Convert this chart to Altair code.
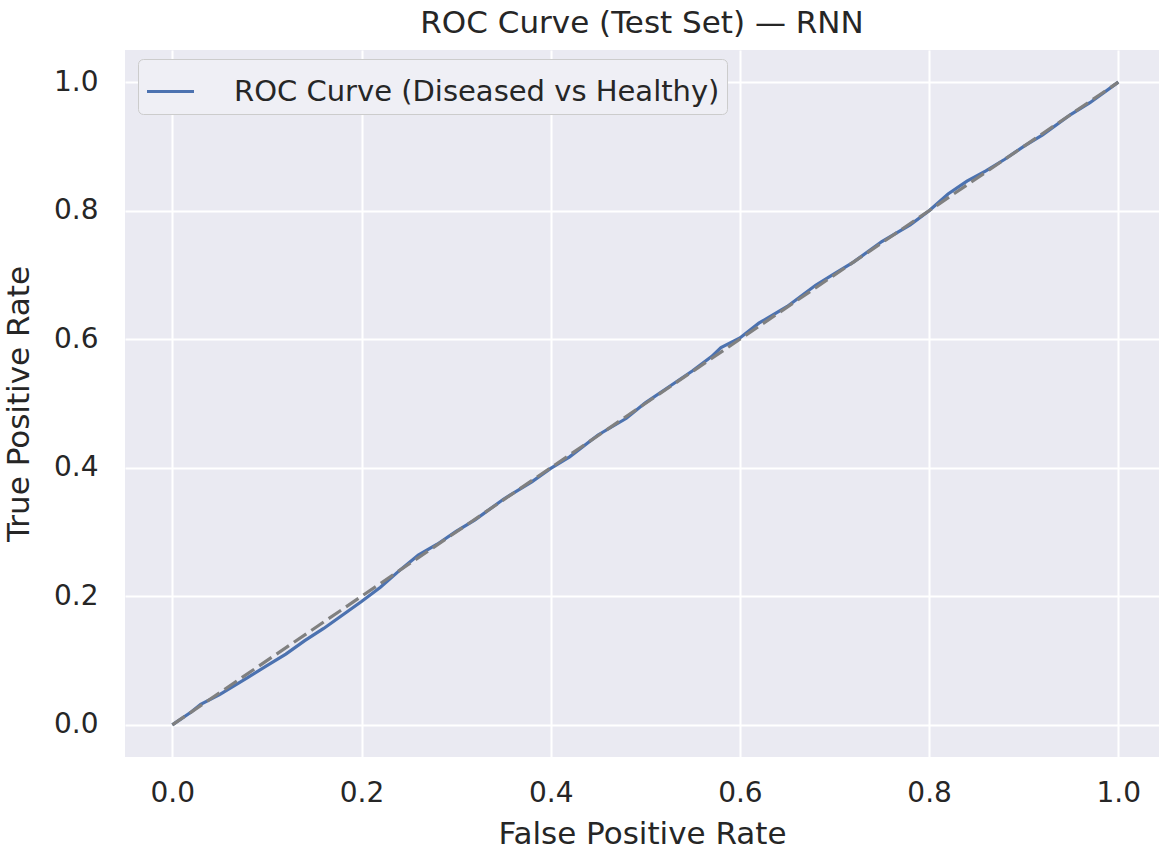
import altair as alt
import pandas as pd

fpr = [0.00, 0.02, 0.03, 0.05, 0.08, 0.10, 0.12, 0.14, 0.16, 0.18, 0.20, 0.22, 0.24, 0.26,
       0.28, 0.30, 0.32, 0.35, 0.38, 0.40, 0.42, 0.45, 0.48, 0.50, 0.52, 0.55, 0.57, 0.58,
       0.60, 0.62, 0.65, 0.68, 0.70, 0.72, 0.75, 0.78, 0.80, 0.82, 0.84, 0.86, 0.88, 0.90,
       0.92, 0.95, 0.97, 1.00]
tpr = [0.000, 0.020, 0.032, 0.047, 0.074, 0.092, 0.110, 0.131, 0.150, 0.171, 0.192, 0.214,
       0.240, 0.264, 0.281, 0.301, 0.319, 0.351, 0.378, 0.399, 0.417, 0.451, 0.477, 0.501,
       0.521, 0.551, 0.573, 0.587, 0.602, 0.625, 0.651, 0.684, 0.702, 0.720, 0.752, 0.778,
       0.800, 0.826, 0.846, 0.862, 0.880, 0.900, 0.918, 0.950, 0.968, 1.000]
diag_x = [0.0, 1.0]
diag_y = [0.0, 1.0]
series_name = "ROC Curve (Diseased vs Healthy)"
ticks = [0.0, 0.2, 0.4, 0.6, 0.8, 1.0]

roc = pd.DataFrame({"fpr": fpr, "tpr": tpr, "series": series_name})
diag = pd.DataFrame({"fpr": diag_x, "tpr": diag_y})

FONT = "DejaVu Sans"
TXT = "#262626"

xs = alt.Scale(domain=[-0.05, 1.043], nice=False, zero=False)
ys = alt.Scale(domain=[-0.05, 1.05], nice=False, zero=False)

xaxis = alt.Axis(title="False Positive Rate", values=ticks, format=".1f", grid=True,
                 gridColor="white", gridWidth=2, gridOpacity=1, domain=False, ticks=False,
                 labelFontSize=28, titleFontSize=31, labelPadding=22, titlePadding=12,
                 labelColor=TXT, titleColor=TXT, labelFont=FONT, titleFont=FONT,
                 titleFontWeight="normal")
yaxis = alt.Axis(title="True Positive Rate", values=ticks, format=".1f", grid=True,
                 gridColor="white", gridWidth=2, gridOpacity=1, domain=False, ticks=False,
                 labelFontSize=28, titleFontSize=31, labelPadding=27, titlePadding=18,
                 labelColor=TXT, titleColor=TXT, labelFont=FONT, titleFont=FONT,
                 titleFontWeight="normal")

line = alt.Chart(roc).mark_line(strokeWidth=3.2, clip=True).encode(
    x=alt.X("fpr:Q", scale=xs, axis=xaxis),
    y=alt.Y("tpr:Q", scale=ys, axis=yaxis),
    color=alt.Color("series:N",
                    scale=alt.Scale(domain=[series_name], range=["#4C72B0"]),
                    legend=alt.Legend(title=None, orient="none", legendX=13, legendY=9,
                                      symbolType="stroke", symbolSize=2209,
                                      symbolStrokeWidth=3.2, labelFontSize=29,
                                      labelFont=FONT, labelColor=TXT, labelOffset=38,
                                      fillColor="#EFEFF5", strokeColor="#CCCCCC",
                                      cornerRadius=5, padding=7, labelLimit=800)),
)

dash = alt.Chart(diag).mark_line(strokeWidth=3.2, color="#808080",
                                 strokeDash=[15, 6], clip=True).encode(
    x=alt.X("fpr:Q", scale=xs),
    y=alt.Y("tpr:Q", scale=ys),
)

chart = alt.layer(line, dash).properties(
    width=1034, height=707,
    background="white",
    title=alt.TitleParams("ROC Curve (Test Set) — RNN", fontSize=31, font=FONT,
                          color=TXT, fontWeight="normal", anchor="middle", offset=10),
    autosize=alt.AutoSizeParams(type="none"),
    padding={"left": 125, "top": 50, "right": 0, "bottom": 101},
).configure_view(fill="#EAEAF2", stroke=None)

chart.save("out.html", embed_options={"renderer": "svg", "actions": False})
